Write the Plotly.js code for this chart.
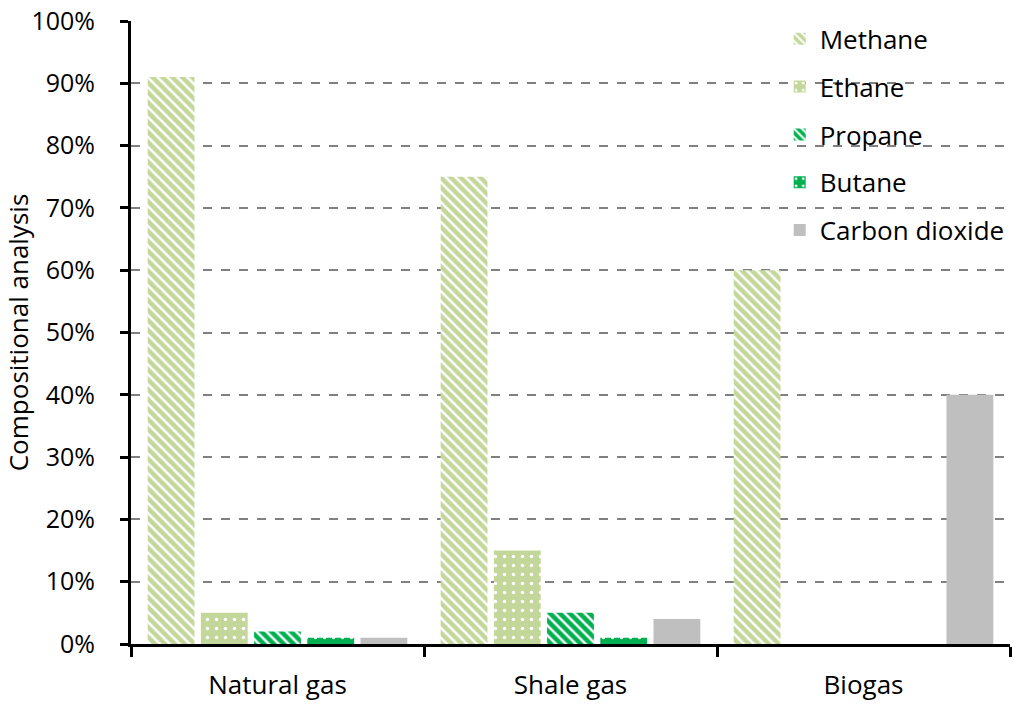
<!DOCTYPE html>
<html>
<head>
<meta charset="utf-8">
<script src="https://cdn.plot.ly/plotly-3.0.1.min.js"></script>
<style>html,body{margin:0;padding:0;background:#fff;}#chart{width:1024px;height:709px;}</style>
</head>
<body>
<div id="chart"></div>
<script>
const categories = ["Natural gas", "Shale gas", "Biogas"];
const seriesNames = ["Methane", "Ethane", "Propane", "Butane", "Carbon dioxide"];
const methane = [91, 75, 60];
const ethane = [5, 15, 0];
const propane = [2, 5, 0];
const butane = [1, 1, 0];
const carbonDioxide = [1, 4, 40];
const yTickValues = [0, 10, 20, 30, 40, 50, 60, 70, 80, 90, 100];

const seriesValues = [methane, ethane, propane, butane, carbonDioxide];
const styles = [
  {color: "#c4d79b", shape: "\\", size: 7, solidity: 0.35},
  {color: "#c4d79b", shape: ".", size: 9, solidity: 0.12},
  {color: "#00b050", shape: "\\", size: 7, solidity: 0.35},
  {color: "#00b050", shape: ".", size: 9, solidity: 0.12},
  {color: "#bfbfbf", shape: "", size: 8, solidity: 0.3}
];

const traces = seriesValues.map((vals, i) => ({
  type: "bar",
  name: seriesNames[i],
  x: categories,
  y: vals,
  legendgroup: "g" + i,
  marker: {
    color: styles[i].color,
    line: {width: 0},
    pattern: {
      shape: styles[i].shape,
      fgcolor: "#ffffff",
      bgcolor: styles[i].color,
      fillmode: "replace",
      size: styles[i].size,
      solidity: styles[i].solidity
    }
  },
  hoverinfo: "skip"
}));

const layout = {
  width: 1024,
  height: 709,
  margin: {l: 131, r: 14, t: 21, b: 65},
  paper_bgcolor: "#ffffff",
  plot_bgcolor: "#ffffff",
  font: {family: "'Open Sans', Lato, sans-serif", size: 25, color: "#000000"},
  barmode: "group",
  bargap: 0.092,
  bargroupgap: 0.12,
  showlegend: true,
  legend: {
    x: 0.738, y: 1.009, xanchor: "left", yanchor: "top",
    font: {size: 26, color: "#000000"},
    traceorder: "grouped",
    tracegroupgap: 11,
    bgcolor: "rgba(255,255,255,0)",
    itemwidth: 30
  },
  xaxis: {
    type: "category",
    showline: true, linecolor: "#000000", linewidth: 3,
    ticks: "outside", tickson: "boundaries", ticklen: 10, tickwidth: 3, tickcolor: "#000000",
    showgrid: false, zeroline: false,
    ticklabelstandoff: 16,
    tickfont: {size: 26}
  },
  yaxis: {
    range: [0, 100],
    tickvals: yTickValues,
    ticktext: yTickValues.map(v => v + "%"),
    showline: true, linecolor: "#000000", linewidth: 3,
    ticks: "outside", ticklen: 8, tickwidth: 3, tickcolor: "#000000",
    showgrid: true, gridcolor: "#808080", gridwidth: 2, griddash: "dash",
    zeroline: false,
    ticklabelstandoff: 20,
    tickfont: {size: 25},
    title: {text: "Compositional analysis", font: {size: 26}, standoff: 4}
  }
};

Plotly.newPlot("chart", traces, layout, {displayModeBar: false, staticPlot: true});
</script>
</body>
</html>
